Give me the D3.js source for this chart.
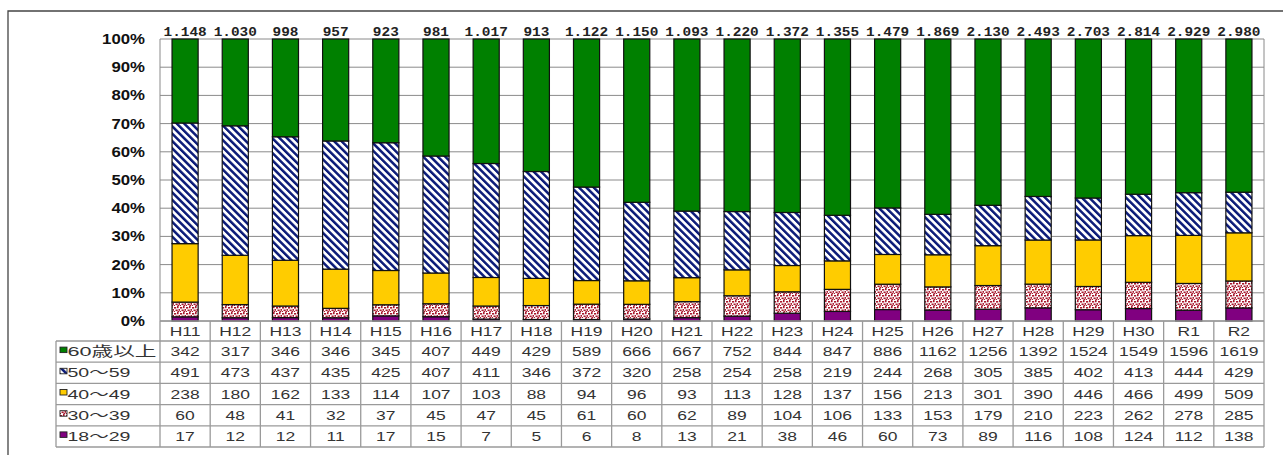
<!DOCTYPE html>
<html><head><meta charset="utf-8">
<script src="https://cdn.jsdelivr.net/npm/d3@7"></script>
<style>
html,body{margin:0;padding:0;background:#fff;}
svg{display:block;}
</style></head>
<body>
<svg id="c" width="1283" height="455"></svg>
<script>
const categories = ['H11','H12','H13','H14','H15','H16','H17','H18','H19','H20','H21','H22','H23','H24','H25','H26','H27','H28','H29','H30','R1','R2'];
const seriesNames = ['60歳以上','50～59','40～49','30～39','18～29'];
const s60 = [342,317,346,346,345,407,449,429,589,666,667,752,844,847,886,1162,1256,1392,1524,1549,1596,1619];
const s50 = [491,473,437,435,425,407,411,346,372,320,258,254,258,219,244,268,305,385,402,413,444,429];
const s40 = [238,180,162,133,114,107,103,88,94,96,93,113,128,137,156,213,301,390,446,466,499,509];
const s30 = [60,48,41,32,37,45,47,45,61,60,62,89,104,106,133,153,179,210,223,262,278,285];
const s18 = [17,12,12,11,17,15,7,5,6,8,13,21,38,46,60,73,89,116,108,124,112,138];
const totalLabels = ['1.148','1.030','998','957','923','981','1.017','913','1.122','1.150','1.093','1.220','1.372','1.355','1.479','1.869','2.130','2.493','2.703','2.814','2.929','2.980'];
const yTicks = [0,0.1,0.2,0.3,0.4,0.5,0.6,0.7,0.8,0.9,1];

const svg = d3.select('#c');
const defs = svg.append('defs');
// stripes
const ps = defs.append('pattern').attr('id','stripe').attr('patternUnits','userSpaceOnUse')
  .attr('width',5.2).attr('height',5.2).attr('patternTransform','rotate(-45)');
ps.append('rect').attr('width',5.2).attr('height',5.2).attr('fill','#fff');
ps.append('rect').attr('width',2.5).attr('height',5.2).attr('fill','#0a1a78');
// dots
const pd = defs.append('pattern').attr('id','dots').attr('patternUnits','userSpaceOnUse')
  .attr('width',6).attr('height',6);
pd.append('rect').attr('width',6).attr('height',6).attr('fill','#fff');
[[0,1,2.2,1.6],[3,0,1.6,2.2],[1.5,3.5,2.2,1.6],[4.5,3,1.5,1.8],[3.5,5,1.8,1],[0,5,1,1]].forEach(r=>{
  pd.append('rect').attr('x',r[0]).attr('y',r[1]).attr('width',r[2]).attr('height',r[3]).attr('fill','#a8192e');
});

const fills = ['#008000','url(#stripe)','#ffcc00','url(#dots)','#800080'];
const seriesVals = [s60,s50,s40,s30,s18];

svg.append('rect').attr('width',1283).attr('height',455).attr('fill','#fff');
// outer frame
svg.append('path').attr('d','M8,455 V11 H1283').attr('fill','none').attr('stroke','#444').attr('stroke-width',1.3);

const L=160, R=1264, T=39, B=321;
const x = d3.scaleBand().domain(categories).range([L,R]).paddingInner(0.48).paddingOuter(0.24);
const xt = d3.scaleBand().domain(categories).range([L,R]);
const y = d3.scaleLinear().domain([0,1]).range([B,T]);

// gridlines
svg.append('g').selectAll('line').data(yTicks).join('line')
  .attr('x1',L).attr('x2',R).attr('y1',d=>y(d)).attr('y2',d=>y(d))
  .attr('stroke','#8a8a8a').attr('stroke-width',1);
svg.append('line').attr('x1',L).attr('x2',L).attr('y1',T).attr('y2',B).attr('stroke','#8a8a8a');
svg.append('line').attr('x1',R).attr('x2',R).attr('y1',T).attr('y2',B).attr('stroke','#8a8a8a');

// y axis
const ya = svg.append('g').attr('transform',`translate(${L},0)`)
  .call(d3.axisLeft(y).tickValues(yTicks).tickFormat(d3.format('.0%')).tickSize(0).tickPadding(12.5));
ya.select('.domain').remove();
ya.selectAll('text').attr('font-family','"Liberation Sans", Arial, sans-serif').attr('font-size',14)
  .attr('font-weight','bold').attr('fill','#111').attr('transform','scale(1.2,1)');

// stacked bars (bottom: 18-29)
const stackOrder = [4,3,2,1,0];
categories.forEach((c,i)=>{
  const tot = seriesVals.reduce((a,s)=>a+s[i],0);
  let acc = 0;
  stackOrder.forEach(k=>{
    const v = seriesVals[k][i]/tot;
    svg.append('rect').attr('x',x(c)).attr('width',x.bandwidth())
      .attr('y',y(acc+v)).attr('height',y(acc)-y(acc+v))
      .attr('fill',fills[k]).attr('stroke','#111').attr('stroke-width',1.2);
    acc += v;
  });
});

// total labels
svg.append('g').selectAll('text').data(categories).join('text')
  .attr('transform',d=>`translate(${x(d)+x.bandwidth()/2},35.5) scale(1.2,1)`)
  .attr('text-anchor','middle').attr('font-family','"Liberation Mono", "DejaVu Sans Mono", monospace')
  .attr('font-weight','bold').attr('font-size',12).attr('fill','#222')
  .text((d,i)=>totalLabels[i]);

// table
const hdrT = B, hdrB = 341, rowH = (447-341)/5, tabB = 447, labL = 56;
const tg = svg.append('g');
const lineC = '#9a9a9a';
for(let r=0;r<=5;r++){
  const yy = hdrB + r*rowH;
  tg.append('line').attr('x1',labL).attr('x2',R).attr('y1',yy).attr('y2',yy).attr('stroke',lineC).attr('stroke-width',1.3);
}
tg.append('line').attr('x1',L).attr('x2',R).attr('y1',hdrT).attr('y2',hdrT).attr('stroke',lineC).attr('stroke-width',1.3);
categories.forEach(c=>{
  tg.append('line').attr('x1',xt(c)).attr('x2',xt(c)).attr('y1',hdrT).attr('y2',tabB).attr('stroke',lineC).attr('stroke-width',1.3);
});
tg.append('line').attr('x1',R).attr('x2',R).attr('y1',hdrT).attr('y2',tabB).attr('stroke',lineC).attr('stroke-width',1.3);
tg.append('line').attr('x1',labL).attr('x2',labL).attr('y1',hdrB).attr('y2',tabB).attr('stroke',lineC).attr('stroke-width',1.3);

const fontT = '"Liberation Sans", Arial, "Noto Sans CJK JP", sans-serif';
tg.selectAll('text.h').data(categories).join('text').attr('class','h')
  .attr('transform',d=>`translate(${xt(d)+xt.bandwidth()/2},${(hdrT+hdrB)/2+4.5}) scale(1.4,1)`)
  .attr('text-anchor','middle').attr('font-family',fontT).attr('font-size',12.5).attr('fill','#333')
  .text(d=>d);
seriesVals.forEach((s,k)=>{
  const cy = hdrB + k*rowH + rowH/2 + 4.5;
  tg.append('g').selectAll('text').data(categories).join('text')
    .attr('transform',d=>`translate(${xt(d)+xt.bandwidth()/2},${cy}) scale(1.4,1)`)
    .attr('text-anchor','middle').attr('font-family',fontT).attr('font-size',12.5).attr('fill','#333')
    .text((d,i)=>s[i]);
  tg.append('rect').attr('x',60).attr('y',cy-9).attr('width',7).attr('height',5.5)
    .attr('fill',fills[k]).attr('stroke','#222').attr('stroke-width',0.9);
  tg.append('text').attr('x',67.5).attr('y',cy).attr('font-family',fontT).attr('font-size',13.5).attr('fill','#333')
    .attr('textLength',k===0?89:63).attr('lengthAdjust','spacingAndGlyphs')
    .text(seriesNames[k]);
});
</script>
</body></html>
